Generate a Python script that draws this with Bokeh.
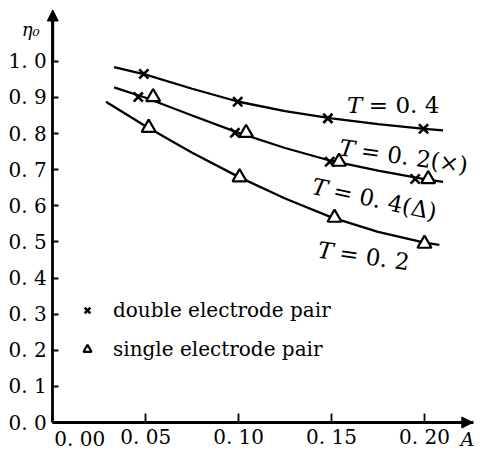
import math
from bokeh.plotting import figure
from bokeh.models import (Range1d, FixedTicker, Label, Arrow, NormalHead,
                          Legend, LegendItem)
from bokeh.embed import file_html
from bokeh.resources import INLINE

# ---------------- data ----------------
A_TICKS = [0.0, 0.05, 0.10, 0.15, 0.20]
A_TICK_LABELS = ["0. 00", "0. 05", "0. 10", "0. 15", "0. 20"]
ETA_TICKS = [0.0, 0.1, 0.2, 0.3, 0.4, 0.5, 0.6, 0.7, 0.8, 0.9, 1.0]
ETA_TICK_LABELS = ["0. 0", "0. 1", "0. 2", "0. 3", "0. 4", "0. 5",
                   "0. 6", "0. 7", "0. 8", "0. 9", "1. 0"]

# measured points
dbl_T04_A = [0.049, 0.0995, 0.148, 0.1995]
dbl_T04_eta = [0.965, 0.888, 0.842, 0.813]
dbl_T02_A = [0.046, 0.098, 0.149, 0.195]
dbl_T02_eta = [0.901, 0.802, 0.722, 0.674]
sgl_T04_A = [0.054, 0.104, 0.154, 0.202]
sgl_T04_eta = [0.901, 0.802, 0.722, 0.674]
sgl_T02_A = [0.0516, 0.1005, 0.1516, 0.200]
sgl_T02_eta = [0.816, 0.679, 0.567, 0.495]

# drawn curves (as read)
curve_top_A = [0.033, 0.05, 0.075, 0.10, 0.125, 0.15, 0.175, 0.20, 0.21]
curve_top_eta = [0.984, 0.963, 0.924, 0.888, 0.862, 0.842, 0.826, 0.813, 0.809]
curve_mid_A = [0.033, 0.05, 0.075, 0.10, 0.125, 0.15, 0.175, 0.20, 0.21]
curve_mid_eta = [0.928, 0.899, 0.850, 0.802, 0.760, 0.724, 0.697, 0.674, 0.666]
curve_bot_A = [0.0286, 0.05, 0.075, 0.10, 0.125, 0.15, 0.175, 0.20, 0.208]
curve_bot_eta = [0.888, 0.820, 0.747, 0.680, 0.620, 0.568, 0.528, 0.498, 0.492]

LEGEND_LABELS = ["double electrode pair", "single electrode pair"]
CURVE_LABELS = [("T", "= 0. 4"), ("T", "= 0. 2(×)"), ("T", "= 0. 4(Δ)"), ("T", "= 0. 2")]
Y_TITLE = "η₀"
X_TITLE = "A"

SERIF = "DejaVu Serif"

p = figure(width=485, height=450,
           x_range=Range1d(-0.02812, 0.23283), y_range=Range1d(-0.0775, 1.1683),
           output_backend="svg", toolbar_location=None,
           min_border_left=0, min_border_right=0,
           min_border_top=0, min_border_bottom=0)
p.outline_line_color = None
p.xgrid.visible = False
p.ygrid.visible = False
p.background_fill_color = "white"
p.border_fill_color = "white"

for ax in (p.xaxis[0], p.yaxis[0]):
    ax.fixed_location = 0
    ax.axis_line_width = 2.8
    ax.axis_line_color = "black"
    ax.major_tick_line_width = 1.8
    ax.major_tick_line_color = "black"
    ax.minor_tick_line_color = None
    ax.major_tick_out = 0
    ax.major_label_text_font = SERIF
    ax.major_label_text_font_size = "20px"
    ax.major_label_text_color = "black"

p.xaxis.bounds = (0, 0.2265)
p.yaxis.bounds = (0, 1.135)
p.xaxis.ticker = FixedTicker(ticks=A_TICKS)
x_over = {t: l for t, l in zip(A_TICKS, A_TICK_LABELS)}
x_over[A_TICKS[0]] = ""
p.xaxis.major_label_overrides = x_over
p.xaxis.major_tick_in = 9
p.xaxis.major_label_standoff = 2

p.yaxis.ticker = FixedTicker(ticks=ETA_TICKS)
p.yaxis.major_label_overrides = {t: l for t, l in zip(ETA_TICKS, ETA_TICK_LABELS)}
p.yaxis.major_tick_in = 6
p.yaxis.major_label_standoff = 6

# "0. 00" label shifted right of the origin as in the original
p.add_layout(Label(x=A_TICKS[0], y=0, x_offset=27, y_offset=-4,
                   text=A_TICK_LABELS[0], text_align="center", text_baseline="top",
                   text_font=SERIF, text_font_size="20px", text_color="black"))

# axis arrows
p.add_layout(Arrow(x_start=0, y_start=1.0, x_end=0, y_end=1.142,
                   line_width=2.8, line_color="black",
                   end=NormalHead(size=11, fill_color="black", line_color="black")))
p.add_layout(Arrow(x_start=0.19, y_start=0, x_end=0.226, y_end=0,
                   line_width=2.8, line_color="black",
                   end=NormalHead(size=11, fill_color="black", line_color="black")))

# curves
for cx, cy in ((curve_top_A, curve_top_eta), (curve_mid_A, curve_mid_eta),
               (curve_bot_A, curve_bot_eta)):
    p.line(cx, cy, line_color="black", line_width=2.3)

# markers
r_x1 = p.scatter(dbl_T04_A, dbl_T04_eta, marker="x", size=13,
                 line_color="black", line_width=2.6)
p.scatter(dbl_T02_A, dbl_T02_eta, marker="x", size=13,
          line_color="black", line_width=2.6)
r_t1 = p.scatter(sgl_T04_A, sgl_T04_eta, marker="triangle", size=14,
                 line_color="black", fill_color="white", line_width=2.2)
p.scatter(sgl_T02_A, sgl_T02_eta, marker="triangle", size=14,
          line_color="black", fill_color="white", line_width=2.2)

legend = Legend(items=[LegendItem(label=LEGEND_LABELS[0], renderers=[r_x1]),
                       LegendItem(label=LEGEND_LABELS[1], renderers=[r_t1])],
                location=(77, 89), orientation="vertical",
                border_line_alpha=0, background_fill_alpha=0,
                label_text_font=SERIF, label_text_font_size="20px",
                label_text_color="black",
                glyph_width=20, glyph_height=20, label_height=20,
                label_standoff=16, spacing=15, padding=0, margin=0)
p.add_layout(legend)

# curve labels: italic T + rest, anchored in data space
def t_label(x, y, deg, parts, size=23):
    ang = math.radians(deg)
    p.add_layout(Label(x=x, y=y, text=parts[0], angle=ang, text_font=SERIF,
                       text_font_style="italic", text_font_size=f"{size}px",
                       text_baseline="alphabetic", text_color="black"))
    w = 0.95 * size
    p.add_layout(Label(x=x, y=y, x_offset=w * math.cos(ang), y_offset=w * math.sin(ang),
                       text=parts[1], angle=ang, text_font=SERIF,
                       text_font_size=f"{size}px",
                       text_baseline="alphabetic", text_color="black"))

t_label(0.1583, 0.8797, 0, CURVE_LABELS[0])
t_label(0.1542, 0.762, -8, CURVE_LABELS[1])
t_label(0.1396, 0.655, -12, CURVE_LABELS[2])
t_label(0.1427, 0.4786, -8, CURVE_LABELS[3])

# axis titles
p.add_layout(Label(x=-0.0167, y=1.088, text=Y_TITLE, text_font=SERIF,
                   text_font_style="italic", text_font_size="18px",
                   text_color="black", text_baseline="alphabetic"))
p.add_layout(Label(x=0.2194, y=-0.047, text=X_TITLE, text_font=SERIF,
                   text_font_style="italic", text_font_size="19px",
                   text_color="black", text_baseline="alphabetic"))

open("out.html", "w").write(file_html(p, INLINE))
